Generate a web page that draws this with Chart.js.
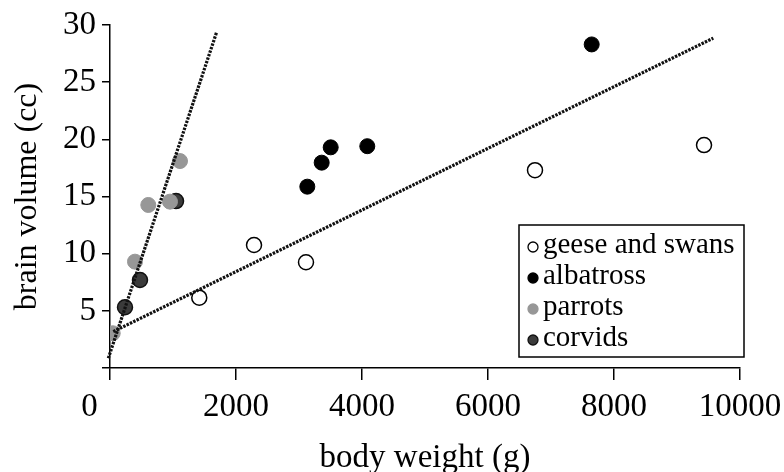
<!DOCTYPE html>
<html>
<head>
<meta charset="utf-8">
<script src="https://cdn.jsdelivr.net/npm/chart.js@4"></script>
<style>
  html, body { margin: 0; padding: 0; background: #fff; }
  #wrap { width: 784px; height: 472px; }
</style>
</head>
<body>
<div id="wrap"><canvas id="brainChart"></canvas></div>
<script>
// values (body weight g, brain volume cc)
const geeseX = [1417, 2286, 3111, 6746, 9429];
const geeseY = [6.15, 10.76, 9.25, 17.3, 19.5];
const albatrossX = [3132, 3360, 3503, 4084, 7646];
const albatrossY = [15.86, 17.96, 19.3, 19.4, 28.3];
const parrotsX = [43, 397, 608, 952, 1111];
const parrotsY = [3.04, 9.3, 14.26, 14.55, 18.1];
const corvidsX = [238, 476, 1048];
const corvidsY = [5.31, 7.7, 14.6];

// fitted lines, end points
const steepLineX = [-27, 1694];
const steepLineY = [0.85, 29.4];
const flatLineX = [52, 9576];
const flatLineY = [3.18, 28.85];

const xTicks = [0, 2000, 4000, 6000, 8000, 10000];
const yTicks = [5, 10, 15, 20, 25, 30];

const serif = "'Liberation Serif', 'DejaVu Serif', serif";

function toPoints(xs, ys) {
  return xs.map((x, i) => ({ x: x, y: ys[i] }));
}

const boxLegend = {
  id: 'boxLegend',
  afterDraw(chart) {
    const ctx = chart.ctx;
    ctx.save();
    ctx.strokeStyle = '#000';
    ctx.lineWidth = 1.5;
    ctx.strokeRect(519, 225, 225, 132);
    ctx.font = '29px ' + serif;
    ctx.textBaseline = 'middle';
    ctx.fillStyle = '#000';
    const rows = [245, 276, 307, 338];
    chart.data.datasets.filter(d => d.inLegend).forEach((d, i) => {
      ctx.beginPath();
      ctx.arc(533, rows[i] + 2, 5, 0, Math.PI * 2);
      ctx.fillStyle = d.backgroundColor;
      ctx.fill();
      ctx.lineWidth = 1.3;
      ctx.strokeStyle = d.borderColor;
      ctx.stroke();
      ctx.fillStyle = '#000';
      ctx.fillText(d.label, 543, rows[i]);
    });
    ctx.restore();
  }
};

const ctx = document.getElementById('brainChart').getContext('2d');
new Chart(ctx, {
  type: 'scatter',
  data: {
    datasets: [
      {
        label: 'geese and swans', inLegend: true,
        data: toPoints(geeseX, geeseY),
        backgroundColor: '#fff', borderColor: '#000', borderWidth: 1.5,
        pointRadius: 7.5, order: 2
      },
      {
        label: 'albatross', inLegend: true,
        data: toPoints(albatrossX, albatrossY),
        backgroundColor: '#000', borderColor: '#000', borderWidth: 1,
        pointRadius: 7.5, order: 2
      },
      {
        label: 'parrots', inLegend: true,
        data: toPoints(parrotsX, parrotsY),
        backgroundColor: '#979797', borderColor: '#979797', borderWidth: 1,
        pointRadius: 7.5, order: 2
      },
      {
        label: 'corvids', inLegend: true,
        data: toPoints(corvidsX, corvidsY),
        backgroundColor: '#3b3b3b', borderColor: '#111', borderWidth: 1.5,
        pointRadius: 7.5, order: 2
      },
      {
        type: 'line', label: 'fit 1',
        data: toPoints(steepLineX, steepLineY),
        borderColor: '#111', borderWidth: 3.2, borderDash: [2.5, 1.2],
        pointRadius: 0, fill: false, clip: false, order: 1
      },
      {
        type: 'line', label: 'fit 2',
        data: toPoints(flatLineX, flatLineY),
        borderColor: '#111', borderWidth: 3.2, borderDash: [2.5, 1.2],
        pointRadius: 0, fill: false, clip: false, order: 1
      }
    ]
  },
  options: {
    responsive: true,
    maintainAspectRatio: false,
    animation: false,
    layout: { padding: { top: 25, right: 44, left: 0, bottom: 0 } },
    plugins: {
      legend: { display: false },
      tooltip: { enabled: false }
    },
    scales: {
      x: {
        type: 'linear',
        min: 0, max: 10000,
        afterFit(scale) {
          scale.height = 104;
          scale.paddingLeft = 0;
          scale.paddingRight = 0;
        },
        afterBuildTicks(scale) { scale.ticks = xTicks.map(v => ({ value: v })); },
        grid: { drawOnChartArea: false, drawTicks: true, tickLength: 12, color: '#000', lineWidth: 1.5 },
        border: { display: true, color: '#000', width: 1.5 },
        ticks: {
          color: '#000', font: { family: serif, size: 33 }, padding: 8, maxRotation: 0,
          // the "0" label sits left of its tick in the original
          callback: v => (v === 0 ? '0     ' : String(v))
        },
        title: { display: true, text: 'body weight (g)', color: '#000', font: { family: serif, size: 33, lineHeight: 1 }, padding: { top: 0, bottom: -3 } }
      },
      y: {
        type: 'linear',
        min: 0, max: 30,
        afterFit(scale) {
          scale.width = 110;
          scale.paddingTop = 0;
          scale.paddingBottom = 0;
        },
        afterBuildTicks(scale) { scale.ticks = [0].concat(yTicks).map(v => ({ value: v })); },
        grid: { drawOnChartArea: false, drawTicks: true, tickLength: 8, color: '#000', lineWidth: 1.5 },
        border: { display: true, color: '#000', width: 1.5 },
        ticks: {
          color: '#000', font: { family: serif, size: 33 }, padding: 6,
          callback: v => (v === 0 ? '' : String(v))
        },
        title: { display: true, text: 'brain volume (cc)', color: '#000', font: { family: serif, size: 32 }, padding: { top: 8, bottom: 0 } }
      }
    }
  },
  plugins: [boxLegend]
});
</script>
</body>
</html>
